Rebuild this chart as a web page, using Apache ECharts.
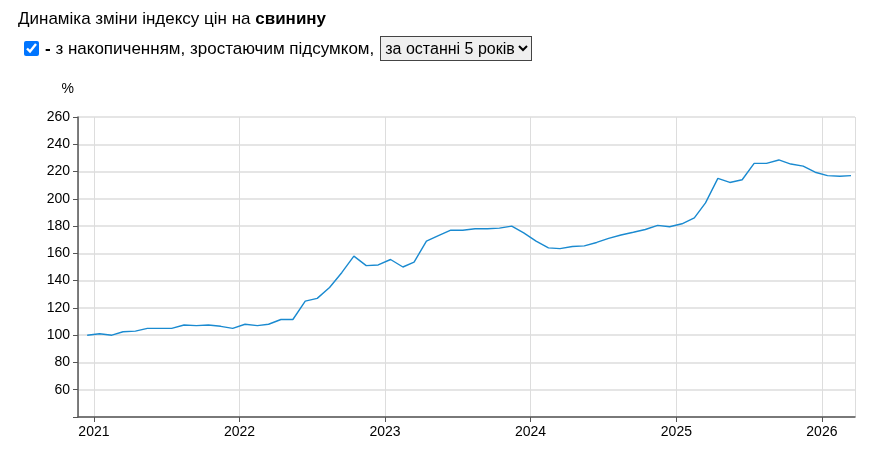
<!DOCTYPE html>
<html><head><meta charset="utf-8">
<script src="https://cdn.jsdelivr.net/npm/echarts@6/dist/echarts.min.js"></script>
<style>
body{margin:0;font-family:"Liberation Sans",Arial,sans-serif;color:#000;}
#t{position:absolute;left:18px;top:9px;font-size:17px;}
#c{position:absolute;left:22px;top:36px;font-size:17px;display:flex;align-items:center;}
#c input{margin:0 6px 0 2px;width:15px;height:15px;}
#c select{font-size:16px;margin-left:6px;font-family:inherit;height:25px;border:1px solid #444;}
#chart{position:absolute;left:0;top:0;width:887px;height:464px;}
</style></head><body>
<div id="chart"></div>
<div id="t">Динаміка зміни індексу цін на <b>свинину</b></div>
<div id="c"><input type="checkbox" checked><b>-</b>&nbsp;з накопиченням, зростаючим підсумком, <select><option>за останні 5 років</option></select></div>
<script>
const startYear = 2020, startMonth = 12;
const values = [100,101,100,102.5,103,105,105,105,107.5,107,107.5,106.5,
105,108,107,108,111.5,111.5,125,127,135,146,158,151,
151.5,155.5,150,153.5,169,173,177,177,178,178,178.5,180,
175,169,164,163.5,165,165.5,168,171,173.5,175.5,177.5,180.5,
179.5,181.7,186,197,215,212,214,226,226,228.5,225.5,224,
219.5,217,216.5,217];
const yTicks = {min:40, max:260, interval:20};
const data = values.map((v,i)=>{
  const d = new Date(startYear, startMonth-1+i, 15);
  return [d.getTime(), v];
});
const ch = echarts.init(document.getElementById('chart'));
ch.setOption({
  animation:false,
  grid:{left:78,right:32,top:117,bottom:47},
  xAxis:{type:'time',min:new Date(2020,10,22).getTime(),max:new Date(2026,2,25).getTime(),
    splitNumber:6,
    axisLine:{lineStyle:{color:'#555',width:1.5}},
    axisTick:{show:true,lineStyle:{color:'#555'}},
    axisLabel:{color:'#000',fontSize:14,fontFamily:'Liberation Sans',formatter:'{yyyy}'},
    splitLine:{show:true,lineStyle:{color:'#ddd'}}},
  yAxis:{type:'value',min:yTicks.min,max:yTicks.max,interval:yTicks.interval,
    name:'%',nameTextStyle:{color:'#000',fontSize:14,align:'right',padding:[0,4,6,0]},
    axisLine:{show:true,lineStyle:{color:'#555',width:1.5}},
    axisTick:{show:true,lineStyle:{color:'#555'}},
    axisLabel:{color:'#000',fontSize:14,fontFamily:'Liberation Sans',formatter:v=>v===40?'':v},
    splitLine:{lineStyle:{color:'#ddd',width:1.5}}},
  series:[{type:'line',data:data,showSymbol:false,lineStyle:{color:'#1a8ad0',width:1.4}}]
});
</script></body></html>
